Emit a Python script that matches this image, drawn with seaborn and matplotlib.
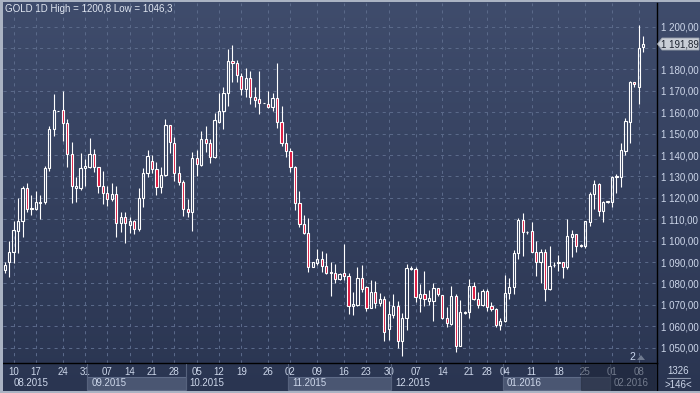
import numpy as np
import matplotlib
matplotlib.use("Agg")
import matplotlib.pyplot as plt
import matplotlib.transforms as mtransforms
from matplotlib.patches import Rectangle, Polygon
from matplotlib.lines import Line2D
from matplotlib.colors import LinearSegmentedColormap
import seaborn as sns

# GOLD daily candles (one entry per candle, left to right)
opens = [1086.3, 1089.9, 1094.5, 1104.7, 1109.0, 1124.5, 1114.8, 1115.0, 1117.8, 1117.9,
         1133.8, 1152.0, 1160.6, 1161.1, 1154.8, 1140.3, 1124.8, 1124.8, 1133.8, 1134.6,
         1140.3, 1134.3, 1125.4, 1122.4, 1119.3, 1121.8, 1108.1, 1110.9, 1107.5, 1109.0,
         1105.3, 1119.8, 1131.5, 1137.4, 1133.3, 1124.9, 1130.5, 1153.9, 1145.5, 1131.8,
         1127.3, 1115.0, 1113.6, 1138.5, 1135.4, 1147.4, 1145.5, 1138.9, 1155.6, 1160.6,
         1168.8, 1183.8, 1182.9, 1176.9, 1170.7, 1175.9, 1167.0, 1166.0, 1164.2, 1163.7,
         1162.6, 1166.5, 1155.6, 1145.8, 1142.1, 1134.6, 1117.8, 1107.6, 1103.7, 1087.9,
         1089.7, 1091.4, 1088.3, 1085.2, 1085.1, 1082.2, 1084.7, 1083.6, 1069.6, 1069.9,
         1082.4, 1078.2, 1068.7, 1075.9, 1071.0, 1072.6, 1058.6, 1065.3, 1069.5, 1053.3,
         1063.7, 1086.9, 1086.8, 1073.4, 1074.9, 1072.0, 1072.0, 1077.7, 1074.5, 1064.0,
         1061.1, 1074.1, 1050.9, 1066.4, 1066.5, 1078.8, 1072.6, 1069.9, 1076.5, 1069.5,
         1068.2, 1060.6, 1062.5, 1075.4, 1078.5, 1094.1, 1109.7, 1104.2, 1104.5, 1094.8,
         1089.9, 1094.8, 1077.3, 1088.5, 1089.4, 1089.9, 1087.5, 1101.9, 1103.0, 1098.1,
         1097.7, 1108.6, 1121.8, 1126.5, 1114.0, 1118.1, 1118.2, 1129.9, 1129.9, 1142.1,
         1155.6, 1174.1, 1172.0, 1190.3]
highs = [1090.2, 1099.8, 1109.2, 1119.8, 1125.7, 1126.8, 1121.3, 1123.1, 1121.3, 1135.0,
         1153.6, 1168.5, 1160.7, 1169.9, 1156.9, 1146.3, 1129.6, 1140.8, 1138.0, 1148.0,
         1142.8, 1134.6, 1132.6, 1125.7, 1126.8, 1125.5, 1113.6, 1113.6, 1111.2, 1109.7,
         1124.8, 1133.8, 1142.4, 1140.0, 1136.9, 1134.6, 1156.9, 1154.2, 1148.6, 1135.0,
         1128.4, 1119.3, 1141.3, 1142.4, 1151.2, 1153.6, 1147.4, 1159.8, 1169.2, 1172.0,
         1189.6, 1191.4, 1184.4, 1178.2, 1180.5, 1179.3, 1171.7, 1179.3, 1164.3, 1169.9,
         1168.8, 1183.2, 1162.9, 1150.2, 1143.5, 1134.9, 1123.2, 1112.0, 1110.4, 1090.1,
         1096.1, 1095.2, 1094.1, 1089.9, 1088.9, 1085.1, 1098.4, 1085.1, 1075.9, 1087.5,
         1088.6, 1079.0, 1081.6, 1081.2, 1075.4, 1074.1, 1071.8, 1074.9, 1071.8, 1066.0,
         1088.9, 1088.2, 1087.5, 1079.6, 1086.0, 1077.0, 1080.1, 1078.0, 1074.8, 1068.8,
         1078.8, 1074.9, 1072.3, 1067.1, 1081.9, 1080.8, 1075.9, 1077.3, 1077.4, 1071.5,
         1068.7, 1064.0, 1084.0, 1082.4, 1095.6, 1110.4, 1113.1, 1104.5, 1108.9, 1099.8,
         1095.9, 1095.9, 1097.5, 1089.9, 1093.3, 1090.2, 1110.0, 1105.0, 1103.1, 1098.3,
         1109.3, 1122.9, 1128.4, 1126.8, 1118.5, 1118.5, 1130.2, 1131.2, 1145.8, 1157.2,
         1174.6, 1174.3, 1200.8, 1195.6]
lows = [1085.1, 1083.2, 1089.7, 1094.1, 1101.9, 1113.6, 1112.0, 1114.3, 1110.0, 1117.0,
        1132.7, 1149.1, 1160.5, 1146.7, 1134.6, 1117.8, 1118.2, 1123.7, 1125.7, 1133.8,
        1132.2, 1122.1, 1117.0, 1116.4, 1118.5, 1101.6, 1104.2, 1099.1, 1103.7, 1103.1,
        1104.7, 1115.6, 1129.9, 1131.5, 1121.3, 1122.1, 1130.2, 1140.8, 1128.0, 1126.0,
        1111.7, 1111.2, 1104.7, 1130.4, 1134.9, 1141.6, 1136.4, 1138.8, 1154.8, 1152.0,
        1163.1, 1174.3, 1174.3, 1168.1, 1167.3, 1163.7, 1162.6, 1159.0, 1164.1, 1162.2,
        1160.7, 1152.5, 1144.2, 1139.3, 1132.2, 1114.3, 1106.5, 1103.1, 1085.5, 1087.8,
        1088.6, 1085.5, 1084.4, 1074.1, 1080.1, 1081.6, 1081.6, 1065.7, 1065.3, 1069.6,
        1076.2, 1067.1, 1068.4, 1068.5, 1069.6, 1053.3, 1053.6, 1063.7, 1049.7, 1046.3,
        1058.3, 1086.3, 1071.5, 1066.8, 1069.6, 1069.9, 1062.6, 1074.1, 1063.2, 1059.5,
        1060.6, 1048.1, 1050.8, 1065.7, 1064.0, 1072.3, 1068.7, 1069.5, 1067.1, 1067.3,
        1059.8, 1058.3, 1062.2, 1072.6, 1075.1, 1091.4, 1093.0, 1103.0, 1094.5, 1083.6,
        1080.4, 1072.0, 1077.0, 1087.8, 1086.0, 1082.7, 1086.6, 1092.5, 1094.5, 1097.2,
        1096.7, 1107.0, 1114.8, 1111.5, 1108.6, 1117.4, 1115.9, 1122.4, 1125.2, 1140.0,
        1145.5, 1172.0, 1163.9, 1188.3]
closes = [1088.6, 1094.5, 1105.0, 1109.0, 1124.5, 1115.0, 1115.1, 1117.9, 1118.1, 1133.8,
          1152.0, 1161.1, 1160.6, 1154.8, 1140.3, 1125.4, 1125.5, 1133.8, 1134.9, 1140.3,
          1134.3, 1125.4, 1122.1, 1119.3, 1121.8, 1108.1, 1110.9, 1108.1, 1109.0, 1105.3,
          1119.8, 1131.5, 1139.6, 1133.3, 1124.9, 1130.5, 1153.9, 1146.1, 1131.8, 1127.3,
          1115.0, 1113.6, 1138.5, 1135.7, 1147.4, 1145.5, 1138.9, 1156.4, 1160.6, 1168.8,
          1183.8, 1182.9, 1177.4, 1170.7, 1175.9, 1167.0, 1165.7, 1164.2, 1164.2, 1162.6,
          1166.5, 1155.6, 1145.8, 1142.1, 1134.6, 1117.8, 1107.6, 1103.7, 1087.9, 1089.9,
          1091.4, 1088.3, 1085.1, 1084.9, 1082.2, 1084.3, 1083.6, 1069.6, 1070.4, 1082.4,
          1077.3, 1068.7, 1075.9, 1071.0, 1072.6, 1057.5, 1065.6, 1069.5, 1053.3, 1063.7,
          1087.1, 1087.2, 1073.5, 1074.9, 1072.7, 1073.1, 1077.7, 1074.9, 1064.0, 1061.4,
          1074.1, 1050.9, 1066.5, 1066.7, 1078.8, 1072.6, 1069.9, 1076.5, 1069.2, 1068.2,
          1060.6, 1062.6, 1075.4, 1078.5, 1094.1, 1109.7, 1104.2, 1104.2, 1094.9, 1089.9,
          1094.8, 1077.3, 1088.3, 1088.8, 1089.9, 1087.5, 1102.2, 1103.0, 1097.7, 1097.7,
          1109.2, 1121.8, 1126.5, 1114.0, 1118.2, 1118.4, 1129.9, 1130.2, 1142.4, 1156.1,
          1174.3, 1173.1, 1189.9, 1191.9]

# x axis: candle index of each weekly label, and the day shown
tick_pos = [2, 7, 13, 18, 23, 28, 33, 38, 43, 48, 53, 59, 64, 70, 76, 81, 86, 92,
            98, 104, 108, 112, 118, 124, 130, 136, 142]
tick_labels = ['10', '17', '24', '31', '07', '14', '21', '28', '05', '12', '19', '26',
               '02', '09', '16', '23', '30', '07', '14', '21', '28', '04', '11', '18',
               '25', '01', '08']
month_labels = ['08.2015', '09.2015', '10.2015', '11.2015', '12.2015', '01.2016', '02.2016']
month_edges = [18.5, 40.5, 63.5, 86.5, 111.5, 135.5]

price_ticks = list(range(1050, 1201, 10))
last_price = 1191.89
last_price_label = '1 191,89'
title = 'GOLD 1D High = 1200,8 Low = 1046,3'
bar_count = '1326'
bars_shown = '>146<'

BG_TOP, BG_BOTTOM = '#3f4c6c', '#2a3551'
GRID = '#5a6989'
TXT = '#cdd7ea'
RED = '#dc143c'

sns.set_style('dark')
plt.rcParams['font.family'] = ['Liberation Sans', 'DejaVu Sans']

W, H = 700, 393
fig = plt.figure(figsize=(W / 100, H / 100), dpi=100)


def fx(px):
    return px / W


def fy(py):
    return 1 - py / H


# gradient background for the whole window
bg = fig.add_axes([0, 0, 1, 1], zorder=0)
bg.imshow(np.linspace(0, 1, 256).reshape(-1, 1), aspect='auto',
          cmap=LinearSegmentedColormap.from_list('bg', [BG_TOP, BG_BOTTOM]),
          extent=[0, 1, 0, 1])
bg.axis('off')

ax = fig.add_axes([fx(3), fy(363), fx(657) - fx(3), fy(3) - fy(363)], zorder=1)
ax.set_facecolor('none')

# candles
x = np.arange(len(opens))
o, h, l, c = (np.array(v) for v in (opens, highs, lows, closes))
up = c >= o
top = np.maximum(o, c)
bot = np.minimum(o, c)
ax.vlines(x, top, h, color='white', lw=0.8, zorder=3)
ax.vlines(x, l, bot, color='white', lw=0.8, zorder=3)
ax.bar(x[up], (top - bot)[up], bottom=bot[up], width=0.5, facecolor='none',
       edgecolor='white', lw=0.8, zorder=4)
ax.bar(x[~up], (top - bot)[~up], bottom=bot[~up], width=0.5, facecolor=RED,
       edgecolor='white', lw=0.8, zorder=4)

ax.set_xlim(-0.37, 146.07)
ax.set_ylim(1042.85, 1211.05)

ax.set_xticks(tick_pos)
ax.set_xticklabels(tick_labels)
ax.set_yticks(price_ticks)
# the 1 190,00 label sits behind the current price tag, so it is left blank
ax.set_yticklabels(['' if abs(v - last_price) < 5 else f'{v // 1000} {v % 1000:03d},00'
                    for v in price_ticks])
ax.yaxis.tick_right()
ax.tick_params(axis='both', length=0, colors=TXT, labelsize=7)
ax.tick_params(axis='x', pad=3)
ax.tick_params(axis='y', pad=3)
ax.grid(True, color=GRID, lw=0.75, linestyle=(0, (3, 4)))
ax.set_axisbelow(True)
for side in ['top', 'left']:
    ax.spines[side].set_visible(False)
for side in ['right', 'bottom']:
    ax.spines[side].set_color('black')
    ax.spines[side].set_linewidth(1)

# month band under the day labels
trans = mtransforms.blended_transform_factory(ax.transData, fig.transFigure)
label_trans = mtransforms.offset_copy(trans, fig=fig, x=4, units='dots')
edges = [ax.get_xlim()[0]] + month_edges + [ax.get_xlim()[1]]
for i, lab in enumerate(month_labels):
    x0, x1 = edges[i], edges[i + 1]
    if i % 2 == 1:
        fig.add_artist(Rectangle((x0, fy(390)), x1 - x0, fy(377) - fy(390),
                                 transform=trans, facecolor='#4a5672',
                                 edgecolor='#5e6b87', lw=0.8, zorder=2))
    if i > 0:
        fig.add_artist(Line2D([x0, x0], [fy(390), fy(364)], transform=trans,
                              color='#56627d', lw=0.8, zorder=2))
    fig.text(x0 + (1.5 if i == 0 else 0), fy(383.5), lab, transform=label_trans,
             color=TXT, fontsize=7, va='center', ha='left', zorder=3)

# dimmed scroll area at the right of the time band
fig.add_artist(Rectangle((fx(581), fy(390)), fx(655) - fx(581), fy(364) - fy(390),
                         transform=fig.transFigure, facecolor='#1b2233', alpha=0.5,
                         edgecolor='#222a3a', lw=0.8, zorder=4))

# current price tag
py = H - ax.transData.transform((0, last_price))[1]
tag = [(657.5, py), (662, py - 6), (699, py - 6), (699, py + 6), (662, py + 6)]
fig.add_artist(Polygon([(fx(a), fy(b)) for a, b in tag], closed=True,
                       transform=fig.transFigure, facecolor='#c9ced6',
                       edgecolor='#9aa1ad', lw=0.6, zorder=5))
fig.text(fx(661), fy(py + 0.5), last_price_label, color='#1e2430', fontsize=7,
         va='center', ha='left', zorder=6)

# bar counter box in the corner
fig.add_artist(Line2D([fx(657), fx(657)], [fy(363), fy(393)], transform=fig.transFigure,
                      color='black', lw=1, zorder=4))
fig.add_artist(Line2D([fx(667), fx(690)], [fy(377.5), fy(377.5)], transform=fig.transFigure,
                      color='#8d98ad', lw=0.8, zorder=4))
fig.text(fx(678.5), fy(371), bar_count, color=TXT, fontsize=7, ha='center', va='center', zorder=5)
fig.text(fx(678.5), fy(384.5), bars_shown, color=TXT, fontsize=7, ha='center', va='center', zorder=5)

# small marker near the last candles
fig.text(fx(632), fy(357), '2', color='#c9d6ee', fontsize=7.5, ha='center', va='center', zorder=5)
fig.add_artist(Polygon([(fx(637), fy(360)), (fx(641), fy(355)), (fx(645), fy(360))],
                       closed=True, transform=fig.transFigure, facecolor='#6f7a8f',
                       edgecolor='none', zorder=5))

fig.text(fx(5), fy(9), title, color='#dfe5f0', fontsize=7, va='center', ha='left', zorder=5)

# light window frame
for rect in [(0, 0, 2.5, 393), (0, 0, 700, 2), (0, 390.5, 700, 2.5)]:
    x_px, y_px, w_px, h_px = rect
    fig.add_artist(Rectangle((fx(x_px), fy(y_px + h_px)), fx(w_px), h_px / H,
                             transform=fig.transFigure, facecolor='#aab3c3',
                             edgecolor='none', zorder=6))

fig.savefig('out.png', dpi=100)
